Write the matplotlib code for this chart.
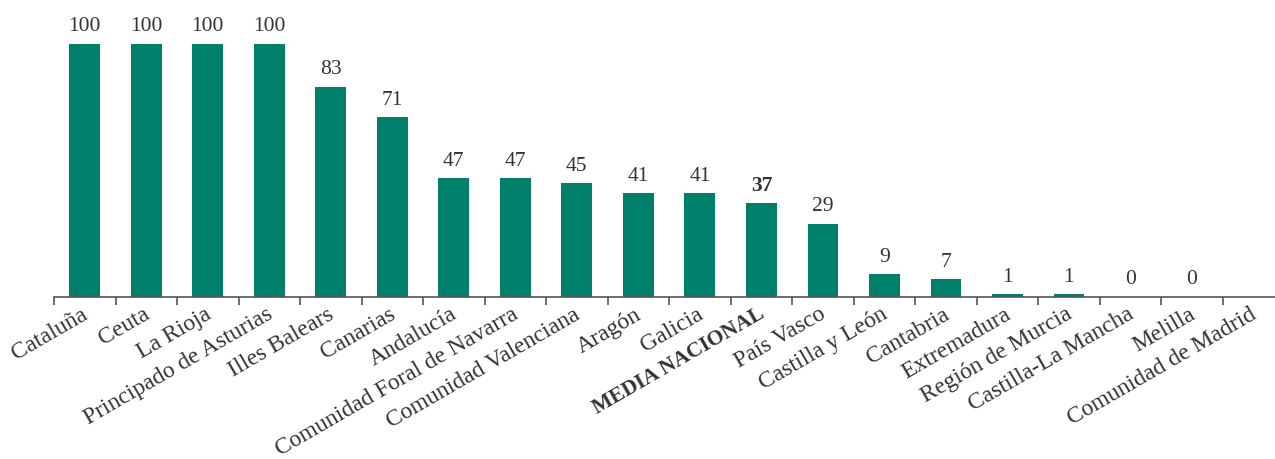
import matplotlib
matplotlib.use("Agg")
import matplotlib.pyplot as plt
import numpy as np

categories = ["Cataluña", "Ceuta", "La Rioja", "Principado de Asturias", "Illes Balears",
              "Canarias", "Andalucía", "Comunidad Foral de Navarra", "Comunidad Valenciana",
              "Aragón", "Galicia", "MEDIA NACIONAL", "País Vasco", "Castilla y León",
              "Cantabria", "Extremadura", "Región de Murcia", "Castilla-La Mancha",
              "Melilla", "Comunidad de Madrid"]
values = [100, 100, 100, 100, 83, 71, 47, 47, 45, 41, 41, 37, 29, 9, 7, 1, 1, 0, 0, None]
value_labels = ["100", "100", "100", "100", "83", "71", "47", "47", "45", "41", "41", "37",
                "29", "9", "7", "1", "1", "0", "0", ""]
highlight = "MEDIA NACIONAL"

plt.rcParams['font.family'] = ['Liberation Serif', 'DejaVu Serif']
green = "#00806A"
axis_col = "#555555"
text_col = "#333333"

fig = plt.figure(figsize=(12.75, 4.59), dpi=100)
ax = fig.add_axes([54/1275, (459-297)/459, (1275-54)/1275, 253/459])

x = np.arange(len(categories))
vals = [v if v is not None else 0 for v in values]
ax.bar(x, vals, width=0.5, color=green)
for xi, v, lab, cat in zip(x, vals, value_labels, categories):
    if lab == "":
        continue
    ax.text(xi, v + 3.0, lab, ha='center', va='bottom', fontsize=15.5, color=text_col,
            fontweight='bold' if cat == highlight else 'normal', clip_on=False)

ax.set_xlim(-0.5, 19.35)
ax.set_ylim(0, 100)
for s in ['top', 'right', 'left']:
    ax.spines[s].set_visible(False)
ax.spines['bottom'].set_color(axis_col)
ax.spines['bottom'].set_linewidth(1.2)
ax.set_yticks([])
ax.set_xticks(np.arange(-0.5, 19.5, 1.0))
ax.set_xticklabels([])
ax.tick_params(axis='x', which='major', length=6, color=axis_col, width=1.2)
ax.set_xticks(x - 0.06, minor=True)
ax.set_xticklabels(categories, minor=True, rotation=30, ha='right', va='top',
                   rotation_mode='anchor', fontsize=17, color=text_col)
ax.tick_params(axis='x', which='minor', length=0, pad=5)
for t in ax.get_xticklabels(minor=True):
    if t.get_text() == highlight:
        t.set_fontweight('bold')
        t.set_fontsize(15.5)

fig.savefig("out.png", dpi=100)
